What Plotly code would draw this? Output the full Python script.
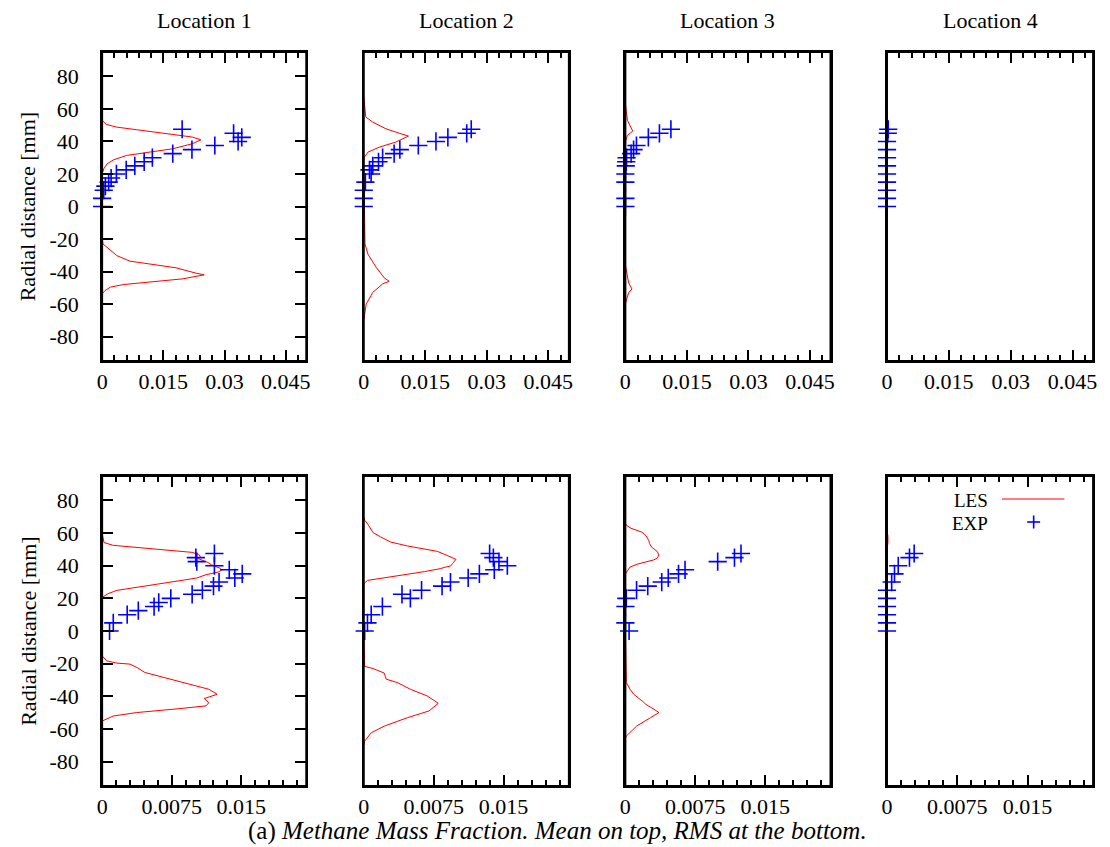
import plotly.graph_objects as go
from plotly.subplots import make_subplots

W, H = 1110, 847

locations = ["Location 1", "Location 2", "Location 3", "Location 4"]

# ---------- Mean methane mass fraction (top row) ----------
# LES profiles: radial distance [mm] and mass fraction
mean_les_y_1 = [60, 53, 50.5, 48.8, 47.2, 45.5, 44.1, 42.7, 41, 38.6, 35.5, 33.4, 31.4, 28.7, 26.2, 23.2, 20,
                0, -18.9, -23, -27, -30.2, -33.6, -35.9, -37.7, -41, -42, -44.5, -46.6, -48, -49.6, -51.7, -53.8, -60]
mean_les_c_1 = [0, 0, 0.001, 0.0036, 0.0085, 0.0141, 0.0189, 0.0221, 0.0242, 0.0221, 0.0173, 0.0109, 0.006, 0.0028, 0.0012, 0.0004, 0,
                0, 0, 0.0002, 0.002, 0.0036, 0.0068, 0.0133, 0.0181, 0.023, 0.025, 0.0197, 0.0117, 0.0052, 0.002, 0.0007, 0, 0]

mean_les_y_2 = [67.3, 60, 55, 51.9, 47.8, 45.1, 43.3, 39.6, 36.5, 33.4, 30.4, 28,
                -23, -29.2, -37.3, -43.9, -46, -47.6, -52.8, -60, -66, -70]
mean_les_c_2 = [0, 0.0003, 0.0005, 0.0022, 0.0054, 0.0086, 0.0109, 0.0078, 0.0038, 0.001, 0.0002, 0,
                0.0003, 0.001, 0.003, 0.005, 0.0062, 0.0046, 0.0022, 0.0006, 0.0003, 0]

mean_les_y_3 = [63, 53, 46.4, 43.7, 40.6, 36.5, -36, -42, -47, -50.7, -53, -57, -60]
mean_les_c_3 = [0, 0.0005, 0.0018, 0.0005, 0.0001, 0, 0, 0.0004, 0.0008, 0.0016, 0.0008, 0.0003, 0]

mean_les_y_4 = [52, 46, 40]
mean_les_c_4 = [0, 0, 0]

# Experimental data
mean_exp_y_1 = [0, 5, 10, 12.5, 15, 17.5, 20, 22.5, 25, 27.5, 30, 32.5, 35, 37.5, 40, 42.5, 45, 47.5]
mean_exp_c_1 = [0, 0, 0.0004, 0.0008, 0.0016, 0.0022, 0.0035, 0.0059, 0.008, 0.0103, 0.0123, 0.0173, 0.022,
                0.0276, 0.0333, 0.0342, 0.0322, 0.0196]

mean_exp_y_2 = [0, 5, 10, 15, 20, 22.5, 25, 27.5, 30, 32.5, 35, 37.5, 40, 42.5, 45, 47.5]
mean_exp_c_2 = [0, 0, 0, 0.0004, 0.0018, 0.0014, 0.0022, 0.0036, 0.0046, 0.0074, 0.0088, 0.0133, 0.0176,
                0.0205, 0.0251, 0.0262]

mean_exp_y_3 = [0, 5, 15, 20, 25, 27.5, 30, 32.5, 35, 37.5, 42.5, 45, 47.5]
mean_exp_c_3 = [0, 0, 0, 0, 0.0001, 0.0002, 0.0003, 0.0014, 0.002, 0.0027, 0.0056, 0.0083, 0.0111]

mean_exp_y_4 = [0, 5, 10, 15, 20, 25, 30, 35, 40, 45, 47.5]
mean_exp_c_4 = [0, 0, 0, 0, 0, 0, 0, 0, 0, 0.0002, 0.0003]

# ---------- RMS of methane mass fraction (bottom row) ----------
rms_les_y_1 = [60, 54.2, 52.5, 50.5, 49, 48.2, 47, 45.5, 44.5, 43.5, 42, 40.5, 38.5, 37.3, 36.1, 34.5, 32.5,
               31.4, 27.9, 24.9, 22.8, 20.5, 0,
               -15.2, -18.3, -19.7, -20.3, -22.5, -25.4, -28.5, -32.6, -35.7, -38.8, -41.4, -43.9, -45.9, -47.6,
               -50, -52.1, -55.2, -60]
rms_les_c_1 = [0, 0.0002, 0.0012, 0.0048, 0.0083, 0.0097, 0.0104, 0.0106, 0.0103, 0.0108, 0.0114, 0.0118, 0.0127,
               0.0129, 0.0125, 0.0112, 0.0102,
               0.009, 0.0048, 0.0016, 0.0006, 0, 0,
               0, 0.0005, 0.0016, 0.003, 0.0038, 0.0046, 0.0066, 0.0094, 0.0115, 0.0124, 0.011, 0.0115, 0.0112, 0.0083,
               0.0037, 0.0012, 0, 0]

rms_les_y_2 = [70, 67.9, 65.8, 61.7, 60.3, 57.7, 54.5, 52.1, 50.5, 48.8, 46.4, 44.7, 43.9, 41.2, 39.8, 39.2, 38.2,
               36.4, 33.4, 32, 31, 28.9, 0,
               -21.7, -23, -25.8, -29.5, -31.6, -35.7, -39.8, -44.3, -49, -53.1, -58.3, -62.4, -67.5, -70]
rms_les_c_2 = [0, 0.0001, 0.0004, 0.0008, 0.001, 0.0018, 0.0029, 0.0047, 0.0065, 0.0079, 0.0089, 0.0097, 0.0099,
               0.0095, 0.0093, 0.0088, 0.0082, 0.0065, 0.0029, 0.0011, 0.0004, 0, 0,
               0.0001, 0.001, 0.0022, 0.0024, 0.0036, 0.005, 0.0068, 0.008, 0.007, 0.0047, 0.0022, 0.0008, 0.0001, 0]

rms_les_y_3 = [66, 64.8, 63, 61.7, 60.5, 58.5, 55.6, 53.5, 51.5, 48.8, 46.6, 44.5, 43.5, 42.5, 41, 39.2, 36.5, 35, 0,
               -31.6, -35.7, -38.8, -42.9, -45, -47, -50, -53.1, -58.3, -64.4, -66]
rms_les_c_3 = [0, 0.0001, 0.0006, 0.0012, 0.0018, 0.0022, 0.0025, 0.0026, 0.0028, 0.0034, 0.0036, 0.0034, 0.003,
               0.0023, 0.0013, 0.0005, 0.0002, 0, 0,
               0.0001, 0.0005, 0.0009, 0.0018, 0.0022, 0.0028, 0.0036, 0.0027, 0.0012, 0.0001, 0]

rms_les_y_4 = [62, 58, 54, 50]
rms_les_c_4 = [0, 0.0001, 0.0001, 0]

rms_exp_y_1 = [0, 5, 10, 12.5, 15, 17.5, 20, 22.5, 25, 27.5, 30, 32.5, 35, 37.5, 40, 42.5, 45, 47.5]
rms_exp_c_1 = [0.0008, 0.0012, 0.0027, 0.0039, 0.0056, 0.0061, 0.0074, 0.0097, 0.0108, 0.012, 0.0126, 0.0143,
               0.0151, 0.0137, 0.0121, 0.0102, 0.0101, 0.0121]

rms_exp_y_2 = [0, 5, 10, 15, 20, 22.5, 25, 27.5, 30, 32.5, 35, 37.5, 40, 42.5, 45, 47.5]
rms_exp_c_2 = [0.0001, 0.0004, 0.0008, 0.002, 0.005, 0.0041, 0.0062, 0.0084, 0.0093, 0.0112, 0.0124, 0.014,
               0.0154, 0.0145, 0.0139, 0.0135]

rms_exp_y_3 = [0, 5, 15, 20, 25, 27.5, 30, 32.5, 35, 37.5, 42.5, 45, 47.5]
rms_exp_c_3 = [0.0004, 0, 0, 0.0001, 0.0012, 0.0024, 0.0039, 0.0046, 0.0057, 0.0064, 0.0099, 0.0117, 0.0124]

rms_exp_y_4 = [0, 5, 10, 15, 20, 25, 30, 35, 40, 45, 47.5]
rms_exp_c_4 = [0, 0, 0, 0, 0, 0, 0.0005, 0.0008, 0.0012, 0.0024, 0.0029]

# Axis ticks
y_ticks = [-80, -60, -40, -20, 0, 20, 40, 60, 80]
y_ticktext = ["-80", "-60", "-40", "-20", "0", "20", "40", "60", "80"]
mean_x_ticks = [0, 0.015, 0.03, 0.045]
mean_x_ticktext = ["0", "0.015", "0.03", "0.045"]
rms_x_ticks = [0, 0.0075, 0.015]
rms_x_ticktext = ["0", "0.0075", "0.015"]

mean_les = [(mean_les_y_1, mean_les_c_1), (mean_les_y_2, mean_les_c_2),
            (mean_les_y_3, mean_les_c_3), (mean_les_y_4, mean_les_c_4)]
mean_exp = [(mean_exp_y_1, mean_exp_c_1), (mean_exp_y_2, mean_exp_c_2),
            (mean_exp_y_3, mean_exp_c_3), (mean_exp_y_4, mean_exp_c_4)]
rms_les = [(rms_les_y_1, rms_les_c_1), (rms_les_y_2, rms_les_c_2),
           (rms_les_y_3, rms_les_c_3), (rms_les_y_4, rms_les_c_4)]
rms_exp = [(rms_exp_y_1, rms_exp_c_1), (rms_exp_y_2, rms_exp_c_2),
           (rms_exp_y_3, rms_exp_c_3), (rms_exp_y_4, rms_exp_c_4)]

FONT = "Liberation Serif"
RED = "#ff0000"
BLUE = "#0000ff"


def px_x(p):
    return p / W


def px_y(p):
    return 1 - p / H


col_px = [(97, 303), (361, 568), (625, 832), (889, 1097)]
row_px = [(52, 361), (476, 786)]

fig = make_subplots(rows=2, cols=4)

for r, (les_set, exp_set) in enumerate([(mean_les, mean_exp), (rms_les, rms_exp)], start=1):
    for c in range(4):
        ly, lc = les_set[c]
        ey, ec = exp_set[c]
        fig.add_trace(go.Scatter(x=lc, y=ly, mode="lines", line=dict(color=RED, width=1),
                                 showlegend=False, hoverinfo="skip"), row=r, col=c + 1)
        fig.add_trace(go.Scatter(x=ec, y=ey, mode="markers", cliponaxis=False,
                                 marker=dict(symbol="cross-thin", size=13, line=dict(color=BLUE, width=1.6)),
                                 showlegend=False, hoverinfo="skip"), row=r, col=c + 1)

tick_font = dict(family=FONT, size=22, color="black")

shapes = []
for r in (1, 2):
    for c in range(4):
        x0, x1 = col_px[c]
        t0, t1 = row_px[r - 1]
        if r == 1:
            xr, tv, tt, mdt = [0, 0.05], mean_x_ticks, mean_x_ticktext, 0.003
        else:
            xr, tv, tt, mdt = [0, 0.022], rms_x_ticks, rms_x_ticktext, 0.0015
        fig.update_xaxes(row=r, col=c + 1, domain=[px_x(x0), px_x(x1)], range=xr,
                         tickvals=tv, ticktext=tt, ticks="inside", ticklen=11, tickwidth=1.5,
                         tickcolor="black", showline=True, linecolor="black", linewidth=2,
                         mirror="ticks", showgrid=False, zeroline=False, tickfont=tick_font,
                         ticklabelstandoff=0,
                         minor=dict(ticks="inside", dtick=mdt, tick0=0, ticklen=6, tickwidth=1.5,
                                    tickcolor="black", showgrid=False))
        yargs = dict(domain=[px_y(t1), px_y(t0)], range=[-95, 95], showline=True, linecolor="black",
                     linewidth=2, showgrid=False, zeroline=False)
        if c == 0:
            yargs.update(tickvals=y_ticks, ticktext=y_ticktext, ticks="inside", ticklen=11, tickwidth=1.5,
                         tickcolor="black", mirror="ticks", tickfont=tick_font, ticklabelstandoff=17)
        else:
            yargs.update(showticklabels=False, ticks="", mirror=True)
        fig.update_yaxes(row=r, col=c + 1, **yargs)

        # frame drawn over the traces so that profile segments lying on x = 0 stay hidden
        idx = (r - 1) * 4 + c + 1
        suffix = "" if idx == 1 else str(idx)
        shapes.append(dict(type="rect", xref=f"x{suffix} domain", yref=f"y{suffix} domain",
                           x0=0, x1=1, y0=0, y1=1, layer="above",
                           line=dict(color="black", width=2), fillcolor="rgba(0,0,0,0)"))

annotations = []
for c, name in enumerate(locations):
    x0, x1 = col_px[c]
    annotations.append(dict(text=name, x=px_x((x0 + x1) / 2), y=px_y(20), xref="paper", yref="paper",
                            showarrow=False, font=dict(family=FONT, size=22, color="black"),
                            xanchor="center", yanchor="middle"))

for t0, t1 in row_px:
    annotations.append(dict(text="Radial distance [mm]", x=px_x(22), y=px_y((t0 + t1) / 2),
                            xref="paper", yref="paper", showarrow=False, textangle=-90,
                            font=dict(family=FONT, size=22, color="black"),
                            xanchor="center", yanchor="middle"))

annotations.append(dict(text="(a) <i>Methane Mass Fraction. Mean on top, RMS at the bottom.</i>",
                        x=px_x(557), y=px_y(831), xref="paper", yref="paper", showarrow=False,
                        font=dict(family=FONT, size=25, color="black"), xanchor="center", yanchor="middle"))

# Legend keys (text left, sample right)
for label, ypix in (("LES", 500), ("EXP", 523)):
    annotations.append(dict(text=label, x=px_x(992), y=px_y(ypix), xref="paper", yref="paper",
                            showarrow=False, borderpad=0,
                            font=dict(family=FONT, size=19, color="black"),
                            xanchor="right", yanchor="middle"))

shapes += [
    dict(type="line", xref="paper", yref="paper", x0=px_x(1005), x1=px_x(1068), y0=px_y(499), y1=px_y(499),
         line=dict(color=RED, width=1)),
    dict(type="line", xref="paper", yref="paper", x0=px_x(1030.5), x1=px_x(1043.5), y0=px_y(522), y1=px_y(522),
         line=dict(color=BLUE, width=1.6)),
    dict(type="line", xref="paper", yref="paper", x0=px_x(1037), x1=px_x(1037), y0=px_y(515.5), y1=px_y(528.5),
         line=dict(color=BLUE, width=1.6)),
]

fig.update_layout(width=W, height=H, margin=dict(l=0, r=0, t=0, b=0), plot_bgcolor="white",
                  paper_bgcolor="white", annotations=annotations, shapes=shapes, showlegend=False,
                  font=dict(family=FONT, color="black"))

fig.write_html("out.html")
